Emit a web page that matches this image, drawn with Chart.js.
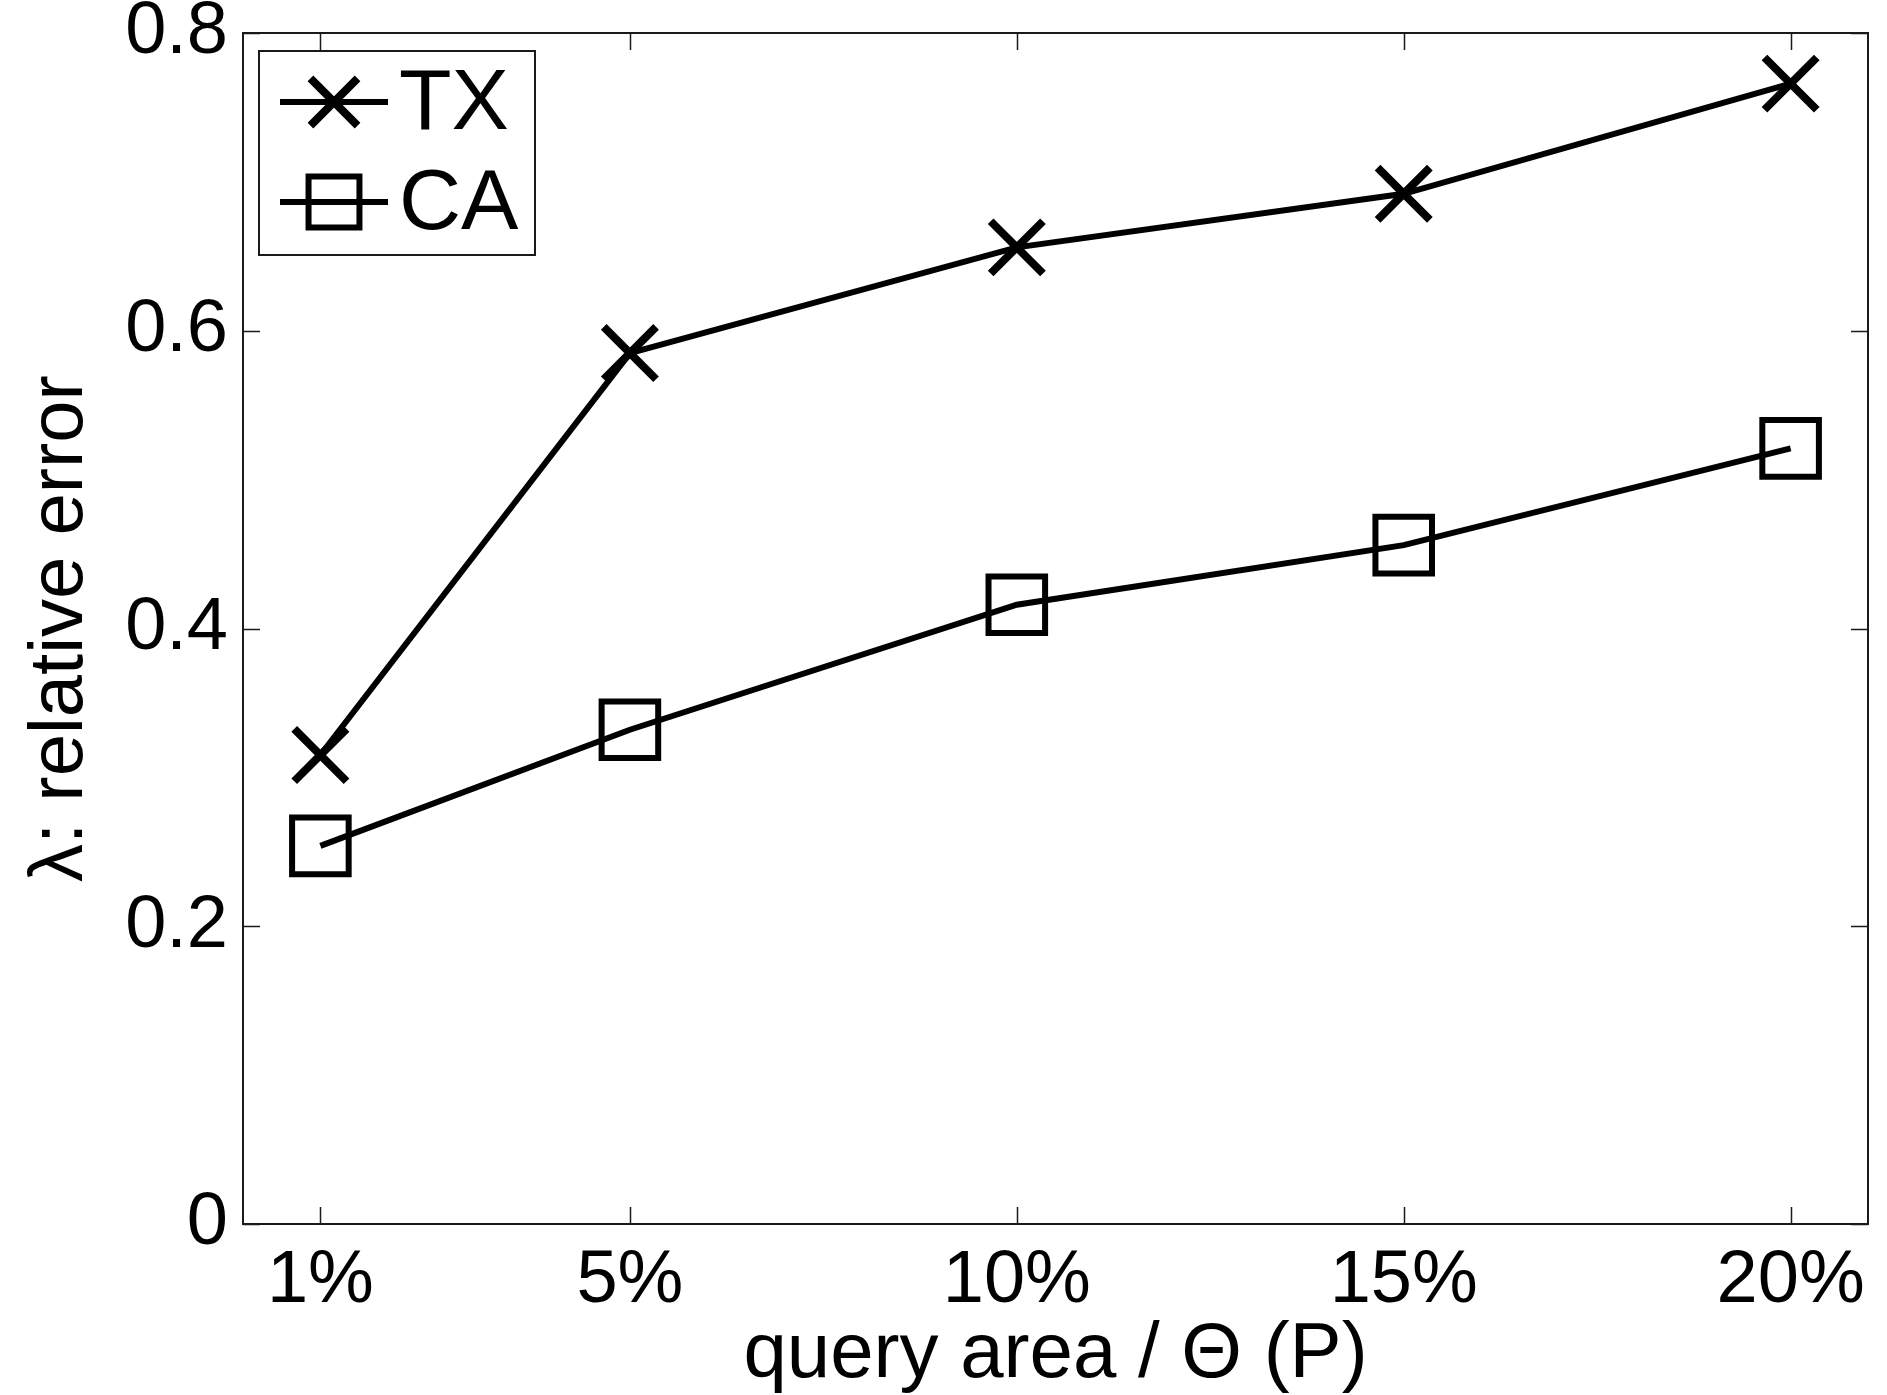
<!DOCTYPE html>
<html>
<head>
<meta charset="utf-8">
<script src="https://cdn.jsdelivr.net/npm/chart.js@4.4.0/dist/chart.umd.min.js"></script>
<style>
  html, body { margin: 0; padding: 0; background: #fff; }
  canvas { display: block; }
</style>
</head>
<body>
<canvas id="c" width="1887" height="1395"></canvas>
<script>
// Query area as a share of Θ(P), in percent
const queryArea = [1, 5, 10, 15, 20];
// Relative error λ per data set
const txError = [0.315, 0.585, 0.656, 0.692, 0.766];
const caError = [0.254, 0.332, 0.416, 0.456, 0.521];
// Axis ticks
const xTickValues = [1, 5, 10, 15, 20];
const yTickValues = [0, 0.2, 0.4, 0.6, 0.8];
const seriesNames = ['TX', 'CA'];

const FONT = 'Liberation Sans, Arial, Helvetica, sans-serif';
const INK = '#000';

const toPoints = ys => queryArea.map((x, i) => ({ x, y: ys[i] }));

// Keep the plot box fixed: no extra room reserved for overhanging tick labels
function fixBox(s, size) {
  if (s.isHorizontal()) s.height = size; else s.width = size;
  s.paddingLeft = s.paddingRight = s.paddingTop = s.paddingBottom = 0;
}

// Box around the plot with inward tick marks on all four sides
const framePlugin = {
  id: 'frame',
  afterDatasetsDraw(chart) {
    const { ctx, chartArea: a, scales } = chart;
    const tl = 17;
    ctx.save();
    ctx.strokeStyle = '#1a1a1a';
    ctx.lineWidth = 1.5;
    ctx.beginPath();
    xTickValues.forEach(v => {
      const px = Math.round(scales.x.getPixelForValue(v)) + 0.5;
      ctx.moveTo(px, a.bottom); ctx.lineTo(px, a.bottom - tl);
      ctx.moveTo(px, a.top); ctx.lineTo(px, a.top + tl);
    });
    yTickValues.forEach(v => {
      const py = Math.round(scales.y.getPixelForValue(v)) + 0.5;
      ctx.moveTo(a.left, py); ctx.lineTo(a.left + tl, py);
      ctx.moveTo(a.right, py); ctx.lineTo(a.right - tl, py);
    });
    ctx.stroke();
    ctx.lineWidth = 2;
    ctx.strokeRect(a.left, a.top, a.right - a.left, a.bottom - a.top);
    ctx.restore();
  }
};

function drawMarker(ctx, style, x, y, r, lw) {
  ctx.save();
  ctx.lineWidth = lw;
  ctx.strokeStyle = INK;
  ctx.beginPath();
  if (style === 'crossRot') {
    const d = r * Math.SQRT1_2;
    ctx.moveTo(x - d, y - d); ctx.lineTo(x + d, y + d);
    ctx.moveTo(x - d, y + d); ctx.lineTo(x + d, y - d);
  } else {
    const s = r * Math.SQRT1_2;
    ctx.rect(x - s, y - s, 2 * s, 2 * s);
  }
  ctx.stroke();
  ctx.restore();
}

// Legend box in the upper-left corner: line with marker, then the name
const legendPlugin = {
  id: 'boxLegend',
  afterDraw(chart) {
    const { ctx, chartArea: a } = chart;
    const left = a.left + 16, top = a.top + 18;
    const w = 276, h = 204;
    ctx.save();
    ctx.fillStyle = '#fff';
    ctx.fillRect(left, top, w, h);
    ctx.lineWidth = 2;
    ctx.strokeStyle = '#1a1a1a';
    ctx.strokeRect(left, top, w, h);
    chart.data.datasets.forEach((ds, i) => {
      const cy = top + 51 + i * 100;
      const x0 = left + 21, x1 = left + 129;
      ctx.lineWidth = ds.borderWidth;
      ctx.strokeStyle = INK;
      ctx.beginPath();
      ctx.moveTo(x0, cy); ctx.lineTo(x1, cy);
      ctx.stroke();
      drawMarker(ctx, ds.pointStyle, (x0 + x1) / 2, cy, ds.pointRadius * 0.9, ds.pointBorderWidth);
      ctx.fillStyle = INK;
      ctx.font = '86px ' + FONT;
      ctx.textBaseline = 'middle';
      ctx.textAlign = 'left';
      ctx.fillText(ds.label, left + 140, cy + 3);
    });
    ctx.restore();
  }
};

new Chart(document.getElementById('c'), {
  type: 'line',
  data: {
    datasets: [
      {
        label: seriesNames[0],
        data: toPoints(txError),
        borderColor: INK,
        borderWidth: 6,
        pointStyle: 'crossRot',
        pointRadius: 37,
        pointBorderWidth: 8,
        pointBorderColor: INK,
        pointBackgroundColor: 'rgba(0,0,0,0)',
        tension: 0,
        clip: false
      },
      {
        label: seriesNames[1],
        data: toPoints(caError),
        borderColor: INK,
        borderWidth: 6,
        pointStyle: 'rect',
        pointRadius: 40,
        pointBorderWidth: 6,
        pointBorderColor: INK,
        pointBackgroundColor: 'rgba(0,0,0,0)',
        tension: 0,
        clip: false
      }
    ]
  },
  options: {
    responsive: false,
    animation: false,
    devicePixelRatio: 1,
    layout: { autoPadding: false, padding: { left: 0, top: 33, right: 19, bottom: 0 } },
    plugins: {
      legend: { display: false },
      tooltip: { enabled: false }
    },
    scales: {
      x: {
        type: 'linear',
        min: 0,
        max: 21,
        grid: { display: false, drawTicks: false },
        border: { display: false },
        afterBuildTicks: s => { s.ticks = xTickValues.map(v => ({ value: v })); },
        afterFit: s => fixBox(s, 171),
        ticks: {
          color: INK,
          padding: 13,
          maxRotation: 0,
          autoSkip: false,
          font: { family: FONT, size: 74 },
          callback: v => v + '%'
        },
        title: {
          display: true,
          text: 'query area / Θ (P)',
          color: INK,
          font: { family: FONT, size: 78, lineHeight: 1 },
          padding: { top: 0, bottom: 1 }
        }
      },
      y: {
        type: 'linear',
        min: 0,
        max: 0.8,
        grid: { display: false, drawTicks: false },
        border: { display: false },
        afterBuildTicks: s => { s.ticks = yTickValues.map(v => ({ value: v })); },
        afterFit: s => fixBox(s, 243),
        ticks: {
          color: INK,
          padding: 15,
          autoSkip: false,
          font: { family: FONT, size: 74 },
          callback: v => (v === 0 ? '0' : v.toFixed(1))
        },
        title: {
          display: true,
          text: 'λ: relative error',
          color: INK,
          font: { family: FONT, size: 76, lineHeight: 1 },
          padding: { top: 23, bottom: 0 }
        }
      }
    }
  },
  plugins: [framePlugin, legendPlugin]
});
</script>
</body>
</html>
